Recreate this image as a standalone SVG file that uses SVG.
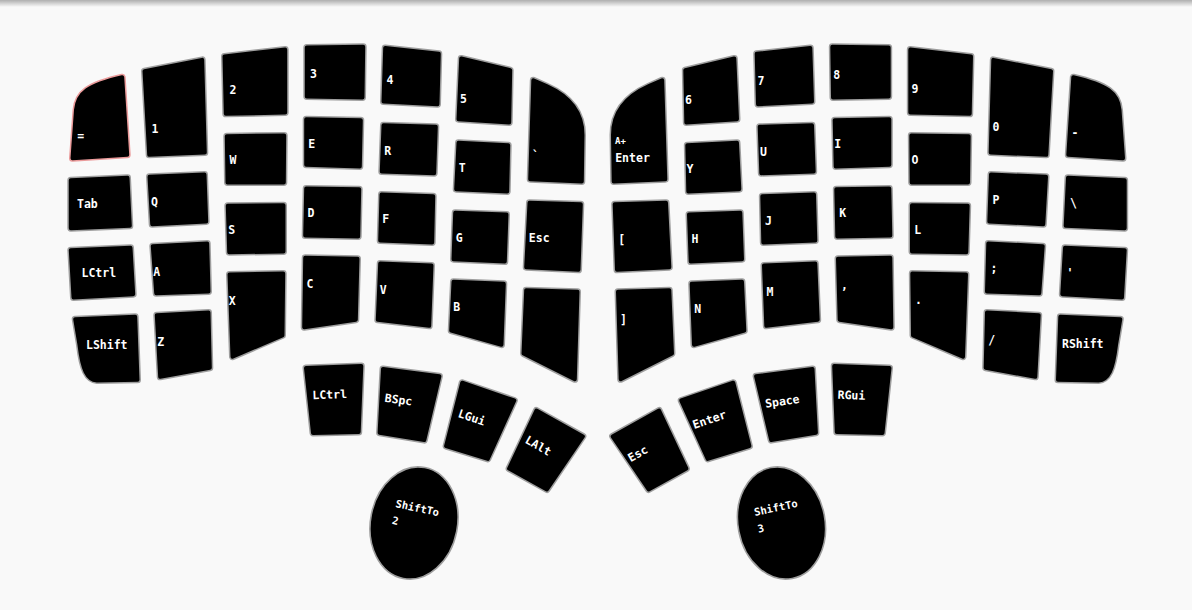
<svg xmlns="http://www.w3.org/2000/svg" xmlns:xlink="http://www.w3.org/1999/xlink" width="1192" height="610" viewBox="0 0 1192 610">
<style>
.o{fill:none;stroke:#9e9e9e;stroke-width:7;stroke-linejoin:round}
.pk{stroke:#ea9a9a}
.i{fill:#000;stroke:#000;stroke-width:4;stroke-linejoin:round}
.t{font-family:"DejaVu Sans Mono","Liberation Mono",monospace;font-weight:bold;font-size:11.5px;fill:#fff}
.sm{font-size:9px}
.st{font-size:10.5px}
.el{fill:#000;stroke:#9e9e9e;stroke-width:1.6}
</style>
<defs>
<linearGradient id="sh" x1="0" y1="0" x2="0" y2="1">
<stop offset="0" stop-color="#000" stop-opacity="0.3"/>
<stop offset="1" stop-color="#000" stop-opacity="0"/>
</linearGradient>
<path id="s-eq" d="M72.5,158.2 L76,110 C77.5,93 88,85 122.2,77.2 L127.2,154.8 Z"/>
<path id="s1" d="M144.5,71.1 L202.2,59.9 L204.8,152.5 L149.2,154.8 Z"/>
<path id="s2" d="M224.5,56.4 L285.2,49.6 L285.2,112.5 L225.8,113.8 Z"/>
<path id="s3" d="M306.8,47.5 L363.2,46.8 L362.5,97.5 L306.8,96.5 Z"/>
<path id="s4" d="M385.2,47.9 L438.8,53.8 L437.5,104.2 L383.5,101.5 Z"/>
<path id="s5" d="M461.2,58.4 L510.2,70.1 L509.2,122.5 L458.5,119.2 Z"/>
<path id="s-gr" d="M533.3,80.3 L546.6,86.2 Q582.5,102.3 582.5,135 L581.8,181.5 L530.2,179.2 Z"/>
<path id="s-tab" d="M70.8,180.2 L127.5,177.8 L129.8,225.8 L70.8,228.2 Z"/>
<path id="s-q" d="M149.5,176.8 L204.5,174.5 L206.2,221.5 L152.2,224.2 Z"/>
<path id="s-w" d="M226.8,136.2 L284.2,135.5 L283.8,182.5 L227.5,182.5 Z"/>
<path id="s-e" d="M306.2,119.2 L360.8,120.2 L359.8,166.5 L306.2,164.8 Z"/>
<path id="s-r" d="M383.5,125.2 L435.8,126.8 L434.2,173.2 L381.8,171.5 Z"/>
<path id="s-t" d="M458.5,142.8 L508.2,145.2 L507.2,191.5 L456.2,189.2 Z"/>
<path id="s-lc" d="M70.8,250.2 L130.5,247.8 L133.2,294.2 L73.5,297.5 Z"/>
<path id="s-a" d="M152.8,246.2 L207.2,243.5 L208.5,291.5 L156.2,293.2 Z"/>
<path id="s-s" d="M227.8,205.8 L283.5,205.2 L283.5,251.5 L229.2,252.2 Z"/>
<path id="s-d" d="M306.2,188.5 L359.2,189.2 L358.2,236.5 L305.2,235.5 Z"/>
<path id="s-f" d="M381.5,194.5 L433.2,196.2 L432.2,242.5 L380.2,240.5 Z"/>
<path id="s-g" d="M455.2,212.8 L506.5,214.5 L504.8,261.5 L453.5,259.2 Z"/>
<path id="s-esc" d="M529.5,202.8 L580.8,204.2 L578.5,269.8 L526.2,267.2 Z"/>
<path id="s-ls" d="M75.2,319.2 L135.2,316.8 L137.5,379.8 L97,380.5 C87,379.5 82.5,370 79.5,345 Z"/>
<path id="s-z" d="M156.8,315.2 L208.5,312.5 L209.8,367.8 L160.2,376.8 Z"/>
<path id="s-x" d="M229.5,274.5 L283.2,273.5 L282.5,335.4 L232.5,356.7 Z"/>
<path id="s-c" d="M305.2,257.8 L357.5,258.8 L355.8,319.7 L304.2,327.3 Z"/>
<path id="s-v" d="M380.2,263.5 L431.5,265.5 L429.2,325.8 L377.8,319.8 Z"/>
<path id="s-b" d="M453.5,281.8 L503.8,283.8 L501.5,344.7 L451.2,330.6 Z"/>
<path id="s-bl" d="M526.2,290.2 L577.5,291.8 L574.8,379.3 L523.5,353.5 Z"/>
<path id="s-t1" d="M306,368 L361.3,366 L358.7,432 L313,433 Z"/>
<path id="s-t2" d="M383,368.9 L439.4,376.3 L424.3,440.1 L379.6,432.7 Z"/>
<path id="s-t3" d="M462.2,382.7 L514.3,400.5 L487.8,458.9 L446.1,446.1 Z"/>
<path id="s-t4" d="M536.4,410.5 L582.9,436.4 L546.9,489.5 L509.1,468.6 Z"/>
</defs>
<rect x="0" y="0" width="1192" height="610" fill="#f9f9f9"/>
<rect x="0" y="0" width="1192" height="7" fill="url(#sh)"/>
<g id="connectors"></g>

<!-- left half -->
<g id="k-eq"><use xlink:href="#s-eq" class="o pk"/><use xlink:href="#s-eq" class="i"/><text class="t" x="77.3" y="139.5">=</text></g>
<g id="k-1"><use xlink:href="#s1" class="o"/><use xlink:href="#s1" class="i"/><text class="t" x="151.5" y="133">1</text></g>
<g id="k-2"><use xlink:href="#s2" class="o"/><use xlink:href="#s2" class="i"/><text class="t" x="229.5" y="94">2</text></g>
<g id="k-3"><use xlink:href="#s3" class="o"/><use xlink:href="#s3" class="i"/><text class="t" x="310" y="78.3">3</text></g>
<g id="k-4"><use xlink:href="#s4" class="o"/><use xlink:href="#s4" class="i"/><text class="t" x="386.5" y="84">4</text></g>
<g id="k-5"><use xlink:href="#s5" class="o"/><use xlink:href="#s5" class="i"/><text class="t" x="460" y="103">5</text></g>
<g id="k-grave"><use xlink:href="#s-gr" class="o"/><use xlink:href="#s-gr" class="i"/><text class="t" x="532" y="160">`</text></g>
<g id="k-tab"><use xlink:href="#s-tab" class="o"/><use xlink:href="#s-tab" class="i"/><text class="t" x="77" y="208.2">Tab</text></g>
<g id="k-q"><use xlink:href="#s-q" class="o"/><use xlink:href="#s-q" class="i"/><text class="t" x="151" y="205.5">Q</text></g>
<g id="k-w"><use xlink:href="#s-w" class="o"/><use xlink:href="#s-w" class="i"/><text class="t" x="229.5" y="164">W</text></g>
<g id="k-e"><use xlink:href="#s-e" class="o"/><use xlink:href="#s-e" class="i"/><text class="t" x="308.2" y="148">E</text></g>
<g id="k-r"><use xlink:href="#s-r" class="o"/><use xlink:href="#s-r" class="i"/><text class="t" x="384.2" y="155">R</text></g>
<g id="k-t"><use xlink:href="#s-t" class="o"/><use xlink:href="#s-t" class="i"/><text class="t" x="458.8" y="172.3">T</text></g>
<g id="k-lctrl"><use xlink:href="#s-lc" class="o"/><use xlink:href="#s-lc" class="i"/><text class="t" x="81.5" y="277">LCtrl</text></g>
<g id="k-a"><use xlink:href="#s-a" class="o"/><use xlink:href="#s-a" class="i"/><text class="t" x="153.2" y="275.7">A</text></g>
<g id="k-s"><use xlink:href="#s-s" class="o"/><use xlink:href="#s-s" class="i"/><text class="t" x="228.2" y="234">S</text></g>
<g id="k-d"><use xlink:href="#s-d" class="o"/><use xlink:href="#s-d" class="i"/><text class="t" x="307.5" y="217.3">D</text></g>
<g id="k-f"><use xlink:href="#s-f" class="o"/><use xlink:href="#s-f" class="i"/><text class="t" x="382.2" y="223.3">F</text></g>
<g id="k-g"><use xlink:href="#s-g" class="o"/><use xlink:href="#s-g" class="i"/><text class="t" x="455.8" y="241.7">G</text></g>
<g id="k-esc-l"><use xlink:href="#s-esc" class="o"/><use xlink:href="#s-esc" class="i"/><text class="t" x="528.8" y="242.3">Esc</text></g>
<g id="k-lshift"><use xlink:href="#s-ls" class="o"/><use xlink:href="#s-ls" class="i"/><text class="t" x="86" y="348.5">LShift</text></g>
<g id="k-z"><use xlink:href="#s-z" class="o"/><use xlink:href="#s-z" class="i"/><text class="t" x="157.2" y="345.7">Z</text></g>
<g id="k-x"><use xlink:href="#s-x" class="o"/><use xlink:href="#s-x" class="i"/><text class="t" x="228.8" y="304.7">X</text></g>
<g id="k-c"><use xlink:href="#s-c" class="o"/><use xlink:href="#s-c" class="i"/><text class="t" x="306.5" y="288.3">C</text></g>
<g id="k-v"><use xlink:href="#s-v" class="o"/><use xlink:href="#s-v" class="i"/><text class="t" x="379.8" y="294">V</text></g>
<g id="k-b"><use xlink:href="#s-b" class="o"/><use xlink:href="#s-b" class="i"/><text class="t" x="453.2" y="311.3">B</text></g>
<g id="k-blank-l"><use xlink:href="#s-bl" class="o"/><use xlink:href="#s-bl" class="i"/></g>
<g id="k-lctrl-th"><use xlink:href="#s-t1" class="o"/><use xlink:href="#s-t1" class="i"/><text class="t" transform="translate(312.5,399.3) rotate(-2)">LCtrl</text></g>
<g id="k-bspc"><use xlink:href="#s-t2" class="o"/><use xlink:href="#s-t2" class="i"/><text class="t" transform="translate(384.3,401.7) rotate(8)">BSpc</text></g>
<g id="k-lgui"><use xlink:href="#s-t3" class="o"/><use xlink:href="#s-t3" class="i"/><text class="t" transform="translate(457.3,416.7) rotate(19)">LGui</text></g>
<g id="k-lalt"><use xlink:href="#s-t4" class="o"/><use xlink:href="#s-t4" class="i"/><text class="t" transform="translate(524.3,442.3) rotate(30)">LAlt</text></g>
<g id="k-shift2"><ellipse class="el" cx="414" cy="523" rx="43.5" ry="56.5" transform="rotate(11 414 523)"/><text class="t st" transform="translate(395,507) rotate(12)"><tspan x="0" y="0">ShiftTo</tspan><tspan x="0" y="17">2</tspan></text></g>

<!-- right half (mirrored shapes) -->
<g id="k-minus"><g transform="matrix(-1 0 0 1 1195.5 0)"><use xlink:href="#s-eq" class="o"/><use xlink:href="#s-eq" class="i"/></g><text class="t" x="1071.5" y="136.5">-</text></g>
<g id="k-0"><g transform="matrix(-1 0 0 1 1195.5 0)"><use xlink:href="#s1" class="o"/><use xlink:href="#s1" class="i"/></g><text class="t" x="992.5" y="131.3">0</text></g>
<g id="k-9"><g transform="matrix(-1 0 0 1 1195.5 0)"><use xlink:href="#s2" class="o"/><use xlink:href="#s2" class="i"/></g><text class="t" x="911.5" y="93.3">9</text></g>
<g id="k-8"><g transform="matrix(-1 0 0 1 1195.5 0)"><use xlink:href="#s3" class="o"/><use xlink:href="#s3" class="i"/></g><text class="t" x="833.2" y="79">8</text></g>
<g id="k-7"><g transform="matrix(-1 0 0 1 1195.5 0)"><use xlink:href="#s4" class="o"/><use xlink:href="#s4" class="i"/></g><text class="t" x="757.5" y="85">7</text></g>
<g id="k-6"><g transform="matrix(-1 0 0 1 1195.5 0)"><use xlink:href="#s5" class="o"/><use xlink:href="#s5" class="i"/></g><text class="t" x="685" y="104">6</text></g>
<g id="k-aenter"><g transform="matrix(-1 0 0 1 1195.5 0)"><use xlink:href="#s-gr" class="o"/><use xlink:href="#s-gr" class="i"/></g><text class="t sm" x="615" y="144.3">A+</text><text class="t" x="615.2" y="162.3">Enter</text></g>
<g id="k-bslash"><g transform="matrix(-1 0 0 1 1195.5 0)"><use xlink:href="#s-tab" class="o"/><use xlink:href="#s-tab" class="i"/></g><text class="t" x="1070" y="206.6">\</text></g>
<g id="k-p"><g transform="matrix(-1 0 0 1 1195.5 0)"><use xlink:href="#s-q" class="o"/><use xlink:href="#s-q" class="i"/></g><text class="t" x="992.5" y="204">P</text></g>
<g id="k-o"><g transform="matrix(-1 0 0 1 1195.5 0)"><use xlink:href="#s-w" class="o"/><use xlink:href="#s-w" class="i"/></g><text class="t" x="911.5" y="164">O</text></g>
<g id="k-i"><g transform="matrix(-1 0 0 1 1195.5 0)"><use xlink:href="#s-e" class="o"/><use xlink:href="#s-e" class="i"/></g><text class="t" x="834.2" y="148.3">I</text></g>
<g id="k-u"><g transform="matrix(-1 0 0 1 1195.5 0)"><use xlink:href="#s-r" class="o"/><use xlink:href="#s-r" class="i"/></g><text class="t" x="760" y="155.7">U</text></g>
<g id="k-y"><g transform="matrix(-1 0 0 1 1195.5 0)"><use xlink:href="#s-t" class="o"/><use xlink:href="#s-t" class="i"/></g><text class="t" x="686.5" y="173.3">Y</text></g>
<g id="k-quote"><g transform="matrix(-1 0 0 1 1195.5 0)"><use xlink:href="#s-lc" class="o"/><use xlink:href="#s-lc" class="i"/></g><text class="t" x="1066.5" y="277">'</text></g>
<g id="k-semi"><g transform="matrix(-1 0 0 1 1195.5 0)"><use xlink:href="#s-a" class="o"/><use xlink:href="#s-a" class="i"/></g><text class="t" x="990.5" y="272.3">;</text></g>
<g id="k-l"><g transform="matrix(-1 0 0 1 1195.5 0)"><use xlink:href="#s-s" class="o"/><use xlink:href="#s-s" class="i"/></g><text class="t" x="914.2" y="234">L</text></g>
<g id="k-k"><g transform="matrix(-1 0 0 1 1195.5 0)"><use xlink:href="#s-d" class="o"/><use xlink:href="#s-d" class="i"/></g><text class="t" x="839.2" y="217.3">K</text></g>
<g id="k-j"><g transform="matrix(-1 0 0 1 1195.5 0)"><use xlink:href="#s-f" class="o"/><use xlink:href="#s-f" class="i"/></g><text class="t" x="765" y="224.7">J</text></g>
<g id="k-h"><g transform="matrix(-1 0 0 1 1195.5 0)"><use xlink:href="#s-g" class="o"/><use xlink:href="#s-g" class="i"/></g><text class="t" x="691.5" y="243">H</text></g>
<g id="k-lbr"><g transform="matrix(-1 0 0 1 1195.5 0)"><use xlink:href="#s-esc" class="o"/><use xlink:href="#s-esc" class="i"/></g><text class="t" x="618.3" y="243.6">[</text></g>
<g id="k-rshift"><g transform="matrix(-1 0 0 1 1195.5 0)"><use xlink:href="#s-ls" class="o"/><use xlink:href="#s-ls" class="i"/></g><text class="t" x="1062" y="348.3">RShift</text></g>
<g id="k-slash"><g transform="matrix(-1 0 0 1 1195.5 0)"><use xlink:href="#s-z" class="o"/><use xlink:href="#s-z" class="i"/></g><text class="t" x="988.2" y="343.6">/</text></g>
<g id="k-dot"><g transform="matrix(-1 0 0 1 1195.5 0)"><use xlink:href="#s-x" class="o"/><use xlink:href="#s-x" class="i"/></g><text class="t" x="915" y="304">.</text></g>
<g id="k-comma"><g transform="matrix(-1 0 0 1 1195.5 0)"><use xlink:href="#s-c" class="o"/><use xlink:href="#s-c" class="i"/></g><text class="t" x="841" y="289">,</text></g>
<g id="k-m"><g transform="matrix(-1 0 0 1 1195.5 0)"><use xlink:href="#s-v" class="o"/><use xlink:href="#s-v" class="i"/></g><text class="t" x="766.5" y="295.7">M</text></g>
<g id="k-n"><g transform="matrix(-1 0 0 1 1195.5 0)"><use xlink:href="#s-b" class="o"/><use xlink:href="#s-b" class="i"/></g><text class="t" x="694.2" y="313">N</text></g>
<g id="k-rbr"><g transform="matrix(-1 0 0 1 1195.5 0)"><use xlink:href="#s-bl" class="o"/><use xlink:href="#s-bl" class="i"/></g><text class="t" x="620" y="323.6">]</text></g>
<g id="k-rgui"><g transform="matrix(-1 0 0 1 1195.5 0)"><use xlink:href="#s-t1" class="o"/><use xlink:href="#s-t1" class="i"/></g><text class="t" transform="translate(837.5,398.7) rotate(2)">RGui</text></g>
<g id="k-space"><g transform="matrix(-1 0 0 1 1195.5 0)"><use xlink:href="#s-t2" class="o"/><use xlink:href="#s-t2" class="i"/></g><text class="t" transform="translate(765.7,407.7) rotate(-8)">Space</text></g>
<g id="k-enter"><g transform="matrix(-1 0 0 1 1195.5 0)"><use xlink:href="#s-t3" class="o"/><use xlink:href="#s-t3" class="i"/></g><text class="t" transform="translate(694.3,429) rotate(-19)">Enter</text></g>
<g id="k-esc-r"><g transform="matrix(-1 0 0 1 1195.5 0)"><use xlink:href="#s-t4" class="o"/><use xlink:href="#s-t4" class="i"/></g><text class="t" transform="translate(630.7,462.3) rotate(-30)">Esc</text></g>
<g id="k-shift3"><ellipse class="el" cx="781.5" cy="523" rx="43.5" ry="56.5" transform="rotate(-11 781.5 523)"/><text class="t st" transform="translate(755,516) rotate(-12)"><tspan x="0" y="0">ShiftTo</tspan><tspan x="0" y="17">3</tspan></text></g>
</svg>
